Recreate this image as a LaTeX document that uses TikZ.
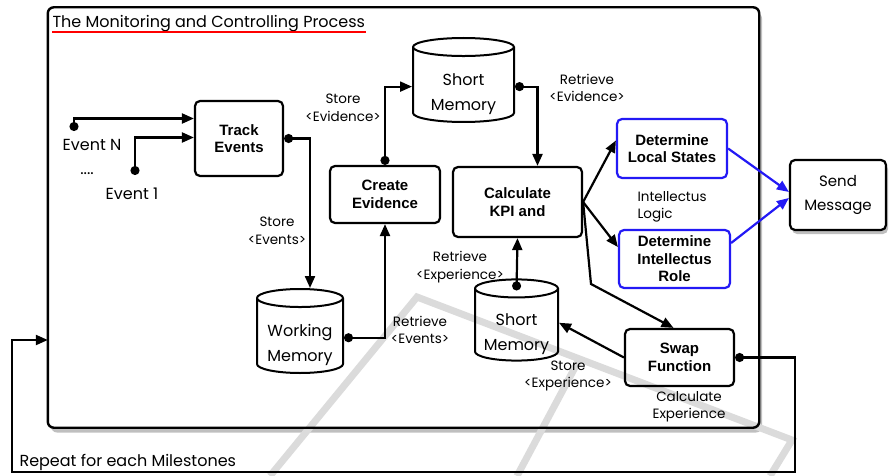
\documentclass[tikz,border=0pt]{standalone}
\usepackage{fontspec}
\setmainfont{Liberation Sans}
\newfontfamily\futura{Poppins}
\usetikzlibrary{shapes.geometric,arrows.meta,shadows}
\definecolor{logicblue}{RGB}{35,25,245}

\tikzset{
  proc/.style={draw, rounded corners=5pt, line width=2.2pt, align=center,
    font=\fontsize{15}{17.5}\selectfont\bfseries},
  logic/.style={proc, draw=logicblue},
  store/.style={draw, cylinder, shape border rotate=90, aspect=0.25, anchor=shape center,
    line width=2pt, font=\futura\fontsize{16}{25}\selectfont},
  lbl/.style={align=center, font=\futura\fontsize{13.5}{17.5}\selectfont},
  link/.style={line width=2.2pt, -{Triangle[length=12pt,width=10pt]}},
  dotlink/.style={line width=2.2pt, {Circle[length=9pt]}-{Triangle[length=12pt,width=10pt]}},
  watermark/.style={line width=7pt, draw=black!14},
}
\newcommand{\memtext}[2]{\raisebox{-6pt}[\height][\depth]{\begin{tabular}{@{}c@{}}#1\\#2\end{tabular}}}

\begin{document}
\begin{tikzpicture}[x=1pt, y=-1pt]
\useasboundingbox (0,0) rectangle (891,476);

% frame of the process
\node[fill=white, rounded corners=6pt, minimum width=711pt, minimum height=420pt,
  drop shadow={shadow xshift=3pt, shadow yshift=-5pt, opacity=0.5}] (frame) at (403.5,217.5) {};
\draw[watermark] (270,476) -- (417,297) -- (792,440) -- (770,476);
\draw[watermark] (517,476) -- (580,358);
\draw[rounded corners=6pt, line width=2.4pt] (frame.south west) rectangle (frame.north east);

\node[anchor=base west, font=\futura\fontsize{16}{18}\selectfont] (title) at (49,28) {The Monitoring and Controlling Process};
\draw[red, line width=1.3pt] ([yshift=-4pt,xshift=3pt]title.base west) -- ([yshift=-4pt,xshift=-3pt]title.base east);

% processes
\node[proc, minimum width=88pt, minimum height=75pt] (track) at (239,138.5) {Track\\Events};
\node[proc, minimum width=110pt, minimum height=57pt] (create) at (385,194.5) {Create\\Evidence};
\node[proc, minimum width=129pt, minimum height=70pt] (calc) at (517.5,202) {Calculate\\KPI and};
\node[logic, minimum width=110pt, minimum height=59pt] (dls) at (672,148.5) {Determine\\Local States};
\node[logic, minimum width=111pt, minimum height=58pt] (dir) at (674.5,259) {Determine\\Intellectus\\Role};
\node[proc, minimum width=109pt, minimum height=57pt] (swap) at (679.5,357.5) {Swap\\Function};
\node[draw, fill=white, rounded corners=5pt, line width=2.2pt, align=center, minimum width=96pt, minimum height=70pt,
  font=\futura\fontsize{15}{24}\selectfont, drop shadow={shadow xshift=2pt, shadow yshift=-4pt, opacity=0.5}]
  (send) at (838,195) {Send\\Message};

% memories
\node[store, minimum width=86pt, minimum height=84pt] (wm) at (300,331) {\memtext{Working}{Memory}};
\node[store, minimum width=101pt, minimum height=84pt] (sm1) at (463.5,80) {\memtext{Short}{Memory}};
\node[store, minimum width=83pt, minimum height=68pt] (sm2) at (516.5,320) {\memtext{Short}{Memory}};

% events
\coordinate (evN) at (74,131);
\coordinate (ev1) at (135,175);
\node[font=\futura\fontsize{16}{18}\selectfont] (evNtext) at (92,145) {Event N};
\node[font=\futura\fontsize{16}{18}\selectfont] (dots) at (87,174) {....};
\node[font=\futura\fontsize{16}{18}\selectfont] (ev1text) at (132,194) {Event 1};

% labels
\node[lbl] (l1) at (277,231) {Store\\<Events>};
\node[lbl] (l2) at (343,108) {Store\\<Evidence>};
\node[lbl] (l3) at (587,88) {Retrieve\\<Evidence>};
\node[lbl] (l4) at (420,330) {Retrieve\\<Events>};
\node[lbl] (l5) at (460,267) {Retrieve\\<Experience>};
\node[lbl] (l6) at (568,376) {Store\\<Experience>};
\node[lbl] (l7) at (689,407) {Calculate\\Experience};
\node[lbl, anchor=west, align=left] (l8) at (634,207) {Intellectus\\Logic};
\node[anchor=west, font=\futura\fontsize{16}{18}\selectfont] (repeat) at (16,462) {Repeat for each Milestones};

% connectors
\draw[dotlink] (evN) |- ([yshift=20pt]track.west);
\draw[dotlink] (ev1) |- ([yshift=1pt]track.west);
\draw[dotlink] (track.east) -| ([xshift=10pt]wm.north);
\draw[dotlink] (wm.east) -| (create.south);
\draw[dotlink] (create.north) |- (sm1.west);
\draw[dotlink] (sm1.east) -| ([xshift=20pt]calc.north);
\draw[dotlink] ([yshift=-12pt]sm2.north) -- (calc.south);
\draw[link] (calc.east) -- ([yshift=8pt]dls.west);
\draw[link] (calc.east) -- ([yshift=12pt]dir.west);
\coordinate (bend) at (591,284);
\draw[link] (calc.east) -- (bend) -- ([xshift=-6pt]swap.north);
\draw[link] (swap.west) -- ([yshift=4pt]sm2.east);
\draw[link, draw=logicblue, fill=logicblue] (dls.east) -- ([yshift=3pt]send.west);
\draw[link, draw=logicblue, fill=logicblue] ([yshift=16pt]dir.east) -- ([yshift=-3pt]send.west);
\coordinate (loopR) at (795,472);
\coordinate (loopL) at (12,340);
\draw[dotlink] (swap.east) -| (loopR) -| (loopL) -- (frame.west |- loopL);
\end{tikzpicture}
\end{document}
